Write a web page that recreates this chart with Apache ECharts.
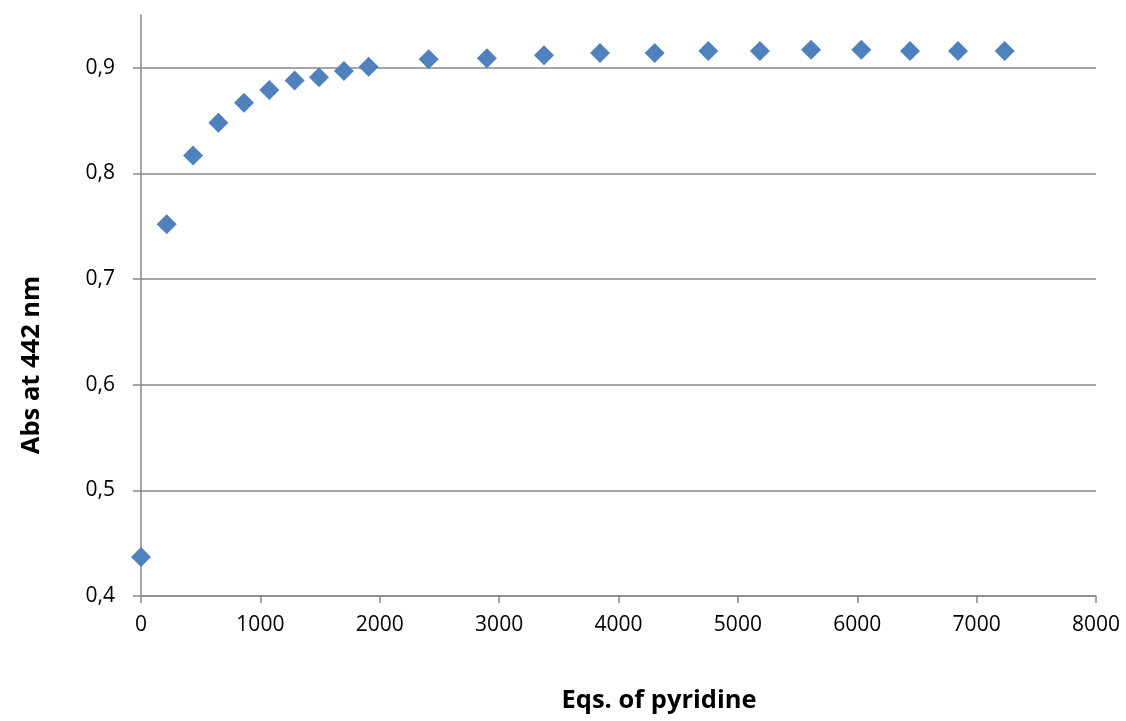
<!DOCTYPE html>
<html>
<head>
<meta charset="utf-8">
<script src="https://cdn.jsdelivr.net/npm/echarts@6/dist/echarts.min.js"></script>
<style>
  html, body { margin: 0; padding: 0; background: #ffffff; }
  #chart { width: 1126px; height: 721px; }
</style>
</head>
<body>
<div id="chart"></div>
<script>
// Titration: absorbance at 442 nm versus equivalents of pyridine added
const pyridineEqs = [0, 215, 436, 648, 863, 1075, 1287, 1491, 1700, 1907,
  2410, 2898, 3376, 3845, 4303, 4752, 5185, 5613, 6034, 6442, 6844, 7235];
const absorbance = [0.437, 0.752, 0.817, 0.848, 0.867, 0.879, 0.888, 0.891, 0.897, 0.901,
  0.908, 0.909, 0.912, 0.914, 0.914, 0.916, 0.916, 0.917, 0.917, 0.916, 0.916, 0.916];
const yTicks = [0.4, 0.5, 0.6, 0.7, 0.8, 0.9];
const xTitle = 'Eqs. of pyridine';
const yTitle = 'Abs at 442 nm';

const axisGray = '#898989';
const font = '"Open Sans", Lato, sans-serif';

const chart = echarts.init(document.getElementById('chart'), null, { renderer: 'canvas' });

chart.setOption({
  animation: false,
  backgroundColor: '#ffffff',
  grid: { left: 141, right: 30, top: 15, bottom: 125 },
  xAxis: {
    type: 'value',
    min: 0, max: 8000, interval: 1000,
    axisLine: { show: true, onZero: false, lineStyle: { color: axisGray, width: 1.5 } },
    axisTick: { show: true, inside: false, length: 7, lineStyle: { color: axisGray, width: 1.5 } },
    axisLabel: {
      margin: 19, color: '#000', fontSize: 21, fontFamily: font,
      formatter: v => String(v)
    },
    splitLine: { show: false }
  },
  yAxis: {
    type: 'value',
    min: 0.4, max: 0.95, interval: 0.1,
    axisLine: { show: true, lineStyle: { color: axisGray, width: 1.5 } },
    axisTick: { show: true, inside: false, length: 8, customValues: yTicks,
      lineStyle: { color: axisGray, width: 1.5 } },
    axisLabel: {
      margin: 26, color: '#000', fontSize: 21, fontFamily: font,
      customValues: yTicks,
      formatter: v => v.toFixed(1).replace('.', ',')
    },
    splitLine: { show: true, lineStyle: { color: axisGray, width: 1.5 } }
  },
  series: [{
    type: 'scatter',
    data: pyridineEqs.map((x, i) => [x, absorbance[i]]),
    symbol: 'diamond',
    symbolSize: 20,
    itemStyle: { color: '#4f81bd', opacity: 1 }
  }],
  graphic: [
    {
      type: 'text',
      x: 659, y: 701,
      style: {
        text: xTitle, fill: '#000', fontSize: 25.5, fontWeight: 'bold', fontFamily: font,
        align: 'center', verticalAlign: 'middle'
      }
    },
    {
      type: 'text',
      x: 32, y: 365,
      rotation: Math.PI / 2,
      style: {
        text: yTitle, fill: '#000', fontSize: 25.5, fontWeight: 'bold', fontFamily: font,
        align: 'center', verticalAlign: 'middle'
      }
    }
  ]
});
</script>
</body>
</html>
